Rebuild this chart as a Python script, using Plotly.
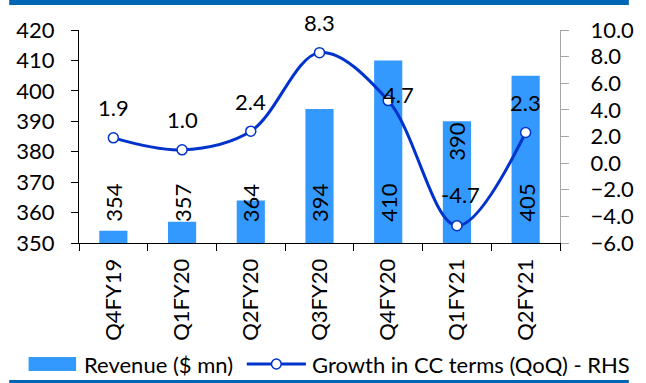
import plotly.graph_objects as go

# Quarterly revenue and constant-currency growth
quarters = ["Q4FY19", "Q1FY20", "Q2FY20", "Q3FY20", "Q4FY20", "Q1FY21", "Q2FY21"]
revenue = [354, 357, 364, 394, 410, 390, 405]
growth_cc = [1.9, 1.0, 2.4, 8.3, 4.7, -4.7, 2.3]

W, H = 646, 383
L, R, T, B = 79, 71, 30, 140
PW, PH = W - L - R, H - T - B

FONT = "Lato"
FS = 22
BAR_COLOR = "#3399FF"
LINE_COLOR = "#0033CC"
FRAME_COLOR = "#0066B3"


def px_x(x):
    return (x - L) / PW


def px_y(y):
    return (H - B - y) / PH


fig = go.Figure()

fig.add_trace(go.Bar(
    x=quarters, y=revenue, name="Revenue ($ mn)",
    marker=dict(color=BAR_COLOR, line=dict(width=0)),
    width=0.41, yaxis="y", showlegend=False,
))

fig.add_trace(go.Scatter(
    x=quarters, y=growth_cc, name="Growth in CC terms (QoQ) - RHS",
    mode="lines+markers", yaxis="y2",
    line=dict(color=LINE_COLOR, width=3, shape="spline", smoothing=1.0),
    marker=dict(symbol="circle", size=10, color="white",
                line=dict(color=LINE_COLOR, width=1.5)),
    showlegend=False,
))

font = dict(family=FONT, size=FS, color="black")
annotations = []
# revenue labels, rotated; near the base of each bar, except where the
# growth label sits, where the value goes to the top of the bar instead
for q, v in zip(quarters, revenue):
    if q == "Q1FY21":
        annotations.append(dict(
            x=q, y=v, xref="x", yref="y", text=str(v), showarrow=False,
            textangle=-90, yanchor="top", xanchor="center", yshift=2, font=font,
        ))
    else:
        annotations.append(dict(
            x=q, y=350, xref="x", yref="y", text=str(v), showarrow=False,
            textangle=-90, yanchor="bottom", xanchor="center", yshift=19, font=font,
        ))
# growth labels above each point
label_offsets = {"Q4FY20": (10, 6), "Q1FY21": (4, 31)}
for q, v in zip(quarters, growth_cc):
    dx, dy = label_offsets.get(q, (0, 30))
    annotations.append(dict(
        x=q, y=v, xref="x", yref="y2", text=f"{v:.1f}", showarrow=False,
        yanchor="middle", xanchor="center", xshift=dx, yshift=dy, font=font,
    ))

# legend drawn as shapes + text
leg_y = 364
annotations.append(dict(
    x=px_x(82), y=px_y(leg_y), xref="paper", yref="paper",
    text="Revenue ($ mn)", showarrow=False, xanchor="left", yanchor="middle",
    font=font,
))
annotations.append(dict(
    x=px_x(317), y=px_y(leg_y), xref="paper", yref="paper",
    text="Growth in CC terms (QoQ) - RHS", showarrow=False,
    xanchor="left", yanchor="middle", font=font,
))

shapes = [
    # top band
    dict(type="rect", xref="paper", yref="paper",
         x0=px_x(7), x1=px_x(646), y0=px_y(0), y1=px_y(5),
         fillcolor=FRAME_COLOR, line=dict(width=0), layer="above"),
    # bottom rule
    dict(type="rect", xref="paper", yref="paper",
         x0=px_x(7), x1=px_x(646), y0=px_y(380), y1=px_y(383),
         fillcolor=FRAME_COLOR, line=dict(width=0), layer="above"),
    # legend key: bar
    dict(type="rect", xref="paper", yref="paper",
         x0=px_x(27), x1=px_x(76), y0=px_y(357), y1=px_y(371),
         fillcolor=BAR_COLOR, line=dict(width=0)),
    # legend key: line with marker
    dict(type="line", xref="paper", yref="paper",
         x0=px_x(252), x1=px_x(313), y0=px_y(leg_y), y1=px_y(leg_y),
         line=dict(color=LINE_COLOR, width=3)),
    dict(type="circle", xref="paper", yref="paper",
         x0=px_x(277.5), x1=px_x(287.5), y0=px_y(leg_y - 5), y1=px_y(leg_y + 5),
         fillcolor="white", line=dict(color=LINE_COLOR, width=1.5)),
]

fig.update_layout(
    width=W, height=H, autosize=False,
    margin=dict(l=L, r=R, t=T, b=B, pad=0),
    paper_bgcolor="white", plot_bgcolor="white",
    font=font,
    xaxis=dict(
        type="category", showgrid=False, zeroline=False,
        showline=True, linecolor="black", linewidth=1,
        ticks="outside", ticklen=7, tickcolor="black", tickson="boundaries",
        tickangle=-90, tickfont=font, ticklabelstandoff=6,
    ),
    yaxis=dict(
        range=[350, 420], dtick=10, showgrid=False, zeroline=False,
        showline=True, linecolor="black", linewidth=1,
        ticks="outside", ticklen=7, tickcolor="black",
        tickfont=font, ticklabelstandoff=12,
    ),
    yaxis2=dict(
        range=[-6, 10], dtick=2, tickformat=".1f", overlaying="y", side="right",
        showgrid=False, zeroline=False,
        showline=True, linecolor="#A6A6A6", linewidth=1,
        ticks="outside", ticklen=8, tickcolor="#A6A6A6",
        tickfont=font, ticklabelstandoff=17,
    ),
    annotations=annotations,
    shapes=shapes,
    showlegend=False,
)

fig.write_html("out.html")
